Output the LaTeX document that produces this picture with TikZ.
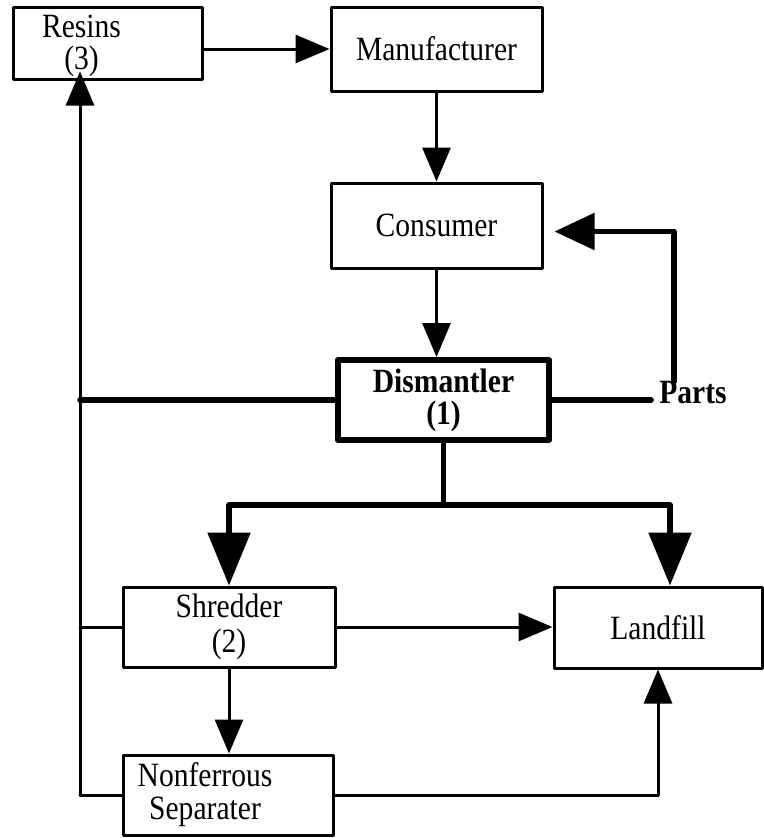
\documentclass[tikz,border=0pt]{standalone}
\usepackage{fontspec}
\setmainfont{Liberation Serif}[FakeStretch=0.87]
\usetikzlibrary{arrows.meta,positioning}

\begin{document}
\begin{tikzpicture}[x=1pt,y=-1pt,>=Latex,line cap=round,line join=round,font=\fontsize{34}{33}\selectfont]
\path[fill=white] (0,0) rectangle (763,838);
\tikzset{box/.style={draw,line width=3pt,inner sep=0pt,minimum width=211pt,minimum height=84pt,align=center},heavybox/.style={box,line width=6pt,font=\fontsize{34}{32}\selectfont\bfseries},wire/.style={draw,line width=3pt},heavywire/.style={draw,line width=5.5pt},tip/.style={-{Triangle[length=34pt,width=28pt]}},bigtip/.style={-{Triangle[length=53pt,width=42pt]}}}
\node[box,minimum width=189pt,minimum height=72pt,label={[name=resinstext,align=center,xshift=-26pt,yshift=-3pt,font=\fontsize{34}{32}\selectfont]center:Resins\\(3)}] (resins) at (107.5,43) {};
\node[box] (manu) at (436.5,49) {Manufacturer};
\node[box,minimum height=85pt] (cons) at (436.5,225.5) {Consumer};
\node[heavybox,minimum height=80pt] (dism) at (443.5,400) {Dismantler\\(1)};
\node[font=\fontsize{34}{33}\selectfont\bfseries,inner xsep=8pt,inner ysep=0pt] (parts) at (693,393) {Parts};
\node[box,minimum width=212pt,minimum height=80pt,font=\fontsize{34}{35}\selectfont] (shred) at (229,627) {Shredder\\(2)};
\node[box,minimum width=208pt,minimum height=81pt] (land) at (658,627.5) {Landfill};
\node[box,minimum width=210pt,minimum height=80pt,label={[name=septext,align=center,xshift=-23pt]center:Nonferrous\\Separater}] (sep) at (228,795) {};
\coordinate (trunk) at (80,795);
\coordinate[below=62pt of dism.south] (split);
\draw[wire,tip] (resins.east |- manu.west) -- (manu.west);
\draw[wire,tip] (manu) -- (cons);
\draw[wire,tip] (cons.south) -- (cons.south |- dism.north);
\draw[heavywire] (dism.east) -- (dism.east -| parts.west);
\draw[heavywire,-{Triangle[length=40pt,width=36pt]}] ([xshift=-19pt]parts.north) |- ([xshift=11pt,yshift=-6pt]cons.east);
\draw[wire,tip,shorten >=-9pt] (trunk) -- (trunk |- resins.south);
\draw[heavywire] (dism.west) -- (dism.west -| trunk);
\draw[wire] (shred.west) -- (shred.west -| trunk);
\draw[wire] (sep.west) -- (trunk);
\draw[heavywire] (dism.south) -- (split);
\draw[heavywire,bigtip] (split) -| (shred.north);
\draw[heavywire,bigtip] (split) -| ([xshift=12pt]land.north);
\draw[wire,tip] (shred.east) -- (shred.east -| land.west);
\draw[wire,tip] (shred.south) -- (shred.south |- sep.north);
\draw[wire,tip] (sep.east) -| (land.south);
\end{tikzpicture}
\end{document}
